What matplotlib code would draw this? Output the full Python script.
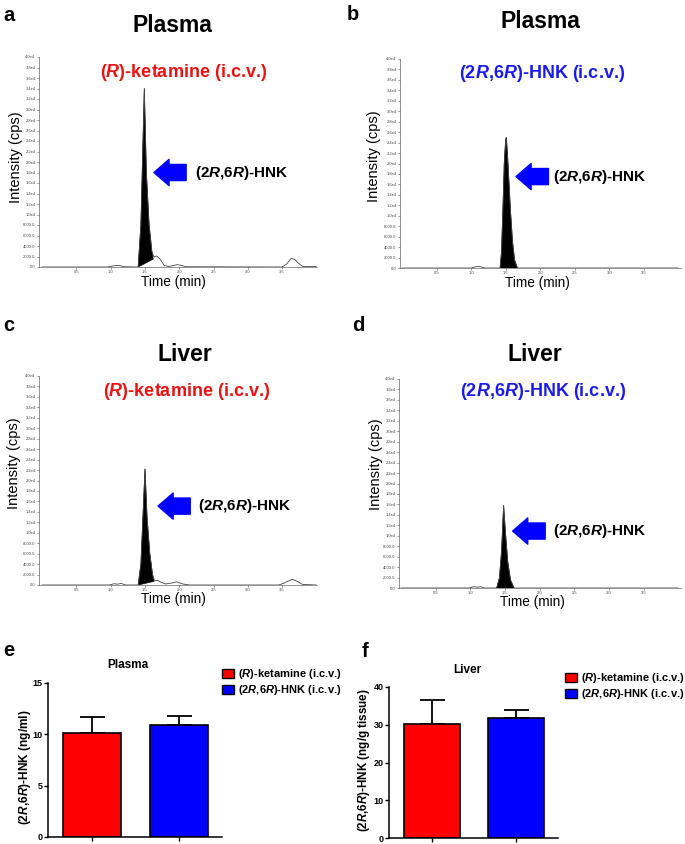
import numpy as np
import matplotlib.pyplot as plt
from matplotlib.patches import Patch

plt.rcParams['font.family'] = ['Liberation Sans', 'DejaVu Sans']
plt.rcParams['mathtext.fontset'] = 'custom'
plt.rcParams['mathtext.rm'] = 'Liberation Sans'
plt.rcParams['mathtext.it'] = 'Liberation Sans:italic'
plt.rcParams['mathtext.bf'] = 'Liberation Sans:bold'
try:
    plt.rcParams['mathtext.bfit'] = 'Liberation Sans:italic:bold'
    R = r'$\mathbfit{R}$'
except KeyError:
    R = r'$\mathit{R}$'

# axis ticks of the chromatograms
t_ticks = [0.5, 1.0, 1.5, 2.0, 2.5, 3.0, 3.5]
t_tick_labels = ['0.5', '1.0', '1.5', '2.0', '2.5', '3.0', '3.5']
y_ticks = [0, 2000, 4000, 6000, 8000, 10000, 12000, 14000, 16000, 18000, 20000,
           22000, 24000, 26000, 28000, 30000, 32000, 34000, 36000, 38000, 40000]
y_tick_labels = ['0.0', '2000.0', '4000.0', '6000.0', '8000.0', '1.0e4', '1.2e4',
                 '1.4e4', '1.6e4', '1.8e4', '2.0e4', '2.2e4', '2.4e4', '2.6e4',
                 '2.8e4', '3.0e4', '3.2e4', '3.4e4', '3.6e4', '3.8e4', '4.0e4']

# a: plasma, (R)-ketamine
a_time = [0.0, 0.95, 1.05, 1.12, 1.2, 1.38, 1.40, 1.44, 1.49, 1.52, 1.56, 1.60, 1.63,
          1.67, 1.72, 1.78, 1.85, 1.92, 1.97, 2.03, 2.1, 3.5, 3.57, 3.63, 3.68, 3.74,
          3.8, 4.0]
a_int = [0, 0, 250, 300, 50, 0, 0, 8000, 34000, 18000, 8000, 3000, 1900,
         2100, 1500, 300, 100, 300, 450, 300, 50, 0, 600, 1600, 1500, 700,
         100, 100]
a_peak_t = [1.40, 1.44, 1.49, 1.52, 1.56, 1.60, 1.62]
a_peak_i = [0, 8000, 34000, 18000, 8000, 3000, 1500]

# b: plasma, (2R,6R)-HNK
b_time = [0.0, 1.0, 1.07, 1.12, 1.2, 1.42, 1.44, 1.46, 1.48, 1.50, 1.51, 1.53,
          1.55, 1.57, 1.60, 1.63, 1.67, 4.0]
b_int = [0, 0, 250, 300, 0, 0, 3000, 11000, 20000, 24500, 25000, 21000,
         16000, 11000, 5000, 1500, 0, 0]
b_peak_t = [1.42, 1.44, 1.46, 1.48, 1.50, 1.51, 1.53, 1.55, 1.57, 1.60, 1.63, 1.67]
b_peak_i = [0, 3000, 11000, 20000, 24500, 25000, 21000, 16000, 11000, 5000, 1500, 0]

# c: liver, (R)-ketamine
c_time = [0.0, 0.98, 1.05, 1.1, 1.15, 1.22, 1.40, 1.44, 1.50, 1.53, 1.57, 1.61,
          1.64, 1.68, 1.74, 1.8, 1.9, 1.96, 2.05, 2.15, 3.45, 3.52, 3.58, 3.65,
          3.72, 3.8, 4.0]
c_int = [0, 0, 250, 150, 300, 0, 0, 4000, 22200, 13000, 6000, 2000,
         800, 900, 500, 200, 400, 600, 200, 0, 0, 300, 700, 1100,
         700, 100, 0]
c_peak_t = [1.40, 1.44, 1.50, 1.53, 1.57, 1.61, 1.63]
c_peak_i = [0, 4000, 22200, 13000, 6000, 2000, 700]

# d: liver, (2R,6R)-HNK
d_time = [0.0, 0.98, 1.05, 1.1, 1.15, 1.2, 1.38, 1.42, 1.45, 1.48, 1.51, 1.54,
          1.58, 1.63, 4.0]
d_int = [0, 0, 250, 150, 250, 0, 0, 2000, 7000, 15800, 10000, 5000,
         1500, 0, 0]
d_peak_t = [1.38, 1.42, 1.45, 1.48, 1.51, 1.54, 1.58, 1.63]
d_peak_i = [0, 2000, 7000, 15800, 10000, 5000, 1500, 0]

# e, f: bar data
groups = ['(R)-ketamine (i.c.v.)', '(2R,6R)-HNK (i.c.v.)']
plasma_mean = [10.1, 10.9]
plasma_err = [1.6, 0.85]
liver_mean = [30.2, 31.9]
liver_err = [6.4, 2.1]
bar_colors = ['#ff0000', '#0000ff']

W, H = 685, 844
fig = plt.figure(figsize=(W / 100, H / 100), dpi=100)


def rect(x0, y0, x1, y1):
    return [x0 / W, 1 - y1 / H, (x1 - x0) / W, (y1 - y0) / H]


def ftext(x, y, s, **kw):
    fig.text(x / W, 1 - y / H, s, **kw)


def chrom(ax, t, y, pt, py, xlim, arrow_y, tip, text_x):
    ax.plot(t, y, color='#444444', lw=0.6)
    ax.fill(pt, py, color='black', lw=0.5)
    ax.set_xlim(*xlim)
    ax.set_ylim(0, 40000)
    ax.set_xticks(t_ticks)
    ax.set_xticklabels(t_tick_labels)
    ax.set_yticks(y_ticks)
    ax.set_yticklabels(y_tick_labels)
    ax.tick_params(labelsize=3, length=1.5, width=0.4, pad=1, colors='#444444')
    for s in ['top', 'right']:
        ax.spines[s].set_visible(False)
    for s in ['left', 'bottom']:
        ax.spines[s].set_linewidth(0.5)
        ax.spines[s].set_color('#666666')
    ax.annotate('', xy=(tip, arrow_y), xytext=(tip + 0.47, arrow_y),
                arrowprops=dict(arrowstyle='simple,head_length=0.75,head_width=1.3,tail_width=0.8',
                                color='#0000ff', shrinkA=0, shrinkB=0, mutation_scale=14.5))
    ax.text(text_x, arrow_y, '(2' + R + ',6' + R + ')-HNK', fontsize=11,
            fontweight='bold', ha='left', va='center')


ax_a = fig.add_axes(rect(39, 57, 317, 267))
chrom(ax_a, a_time, a_int, a_peak_t, a_peak_i, (-0.047, 4.01), 18000, 1.63, 2.23)
ax_b = fig.add_axes(rect(400, 59, 681, 268))
chrom(ax_b, b_time, b_int, b_peak_t, b_peak_i, (-0.03, 4.04), 17500, 1.65, 2.19)
ax_c = fig.add_axes(rect(39, 376, 317, 585))
chrom(ax_c, c_time, c_int, c_peak_t, c_peak_i, (-0.047, 4.01), 15100, 1.69, 2.28)
ax_d = fig.add_axes(rect(399, 379, 681, 588))
chrom(ax_d, d_time, d_int, d_peak_t, d_peak_i, (-0.03, 4.04), 10900, 1.61, 2.19)

# panel letters and titles
for x, y, s in [(3, 21, 'a'), (347, 20, 'b'), (3, 331, 'c'), (352, 331, 'd'),
                (3, 656, 'e'), (362, 657, 'f')]:
    ftext(x, y, s, fontsize=14.5, fontweight='bold', ha='left', va='baseline')

for x, y, s in [(172, 32, 'Plasma'), (540, 28, 'Plasma'), (185, 361, 'Liver'),
                (535, 361, 'Liver')]:
    ftext(x, y, s, fontsize=16.5, fontweight='bold', ha='center', va='baseline')

ket = '(' + R + ')-ketamine (i.c.v.)'
hnk = '(2' + R + ',6' + R + ')-HNK (i.c.v.)'
ftext(184, 77, ket, fontsize=13, fontweight='bold', color='#ee1111', ha='center', va='baseline')
ftext(542, 78, hnk, fontsize=13, fontweight='bold', color='#1a1aee', ha='center', va='baseline')
ftext(187, 396, ket, fontsize=13, fontweight='bold', color='#ee1111', ha='center', va='baseline')
ftext(543, 396, hnk, fontsize=13, fontweight='bold', color='#1a1aee', ha='center', va='baseline')

for x, y in [(173, 286), (537, 287), (173, 603), (532, 606)]:
    ftext(x, y, 'Time (min)', fontsize=9.8, ha='center', va='baseline')
for x, y in [(16, 157), (374, 156), (14, 463), (376, 464)]:
    ftext(x, y, 'Intensity (cps)', fontsize=10.5, rotation=90, ha='center', va='center')


def bars(ax, mean, err, ymax, yticks, title, tx, ty, leg_xy):
    x = np.arange(len(mean))
    ax.bar(x, mean, width=0.67, color=bar_colors, edgecolor='black', lw=1.2, zorder=2)
    ax.errorbar(x, mean, yerr=[[0] * len(err), err], fmt='none', ecolor='black',
                elinewidth=1.3, capsize=9, capthick=1.3, zorder=1)
    ax.set_xlim(-0.51, 1.5)
    ax.set_ylim(0, ymax)
    ax.set_yticks(yticks)
    ax.set_xticks(x)
    ax.set_xticklabels(['', ''])
    for s in ['top', 'right']:
        ax.spines[s].set_visible(False)
    for s in ['left', 'bottom']:
        ax.spines[s].set_linewidth(1.1)
    ax.tick_params(labelsize=6.5, length=3, width=1.0, pad=1)
    for lab in ax.get_yticklabels():
        lab.set_fontweight('bold')
    ftext(tx, ty, title, fontsize=8.5, fontweight='bold', ha='center', va='baseline')
    handles = [Patch(facecolor=c, edgecolor='black', lw=1.0) for c in bar_colors]
    labels = ['(' + R + ')-ketamine (i.c.v.)', '(2' + R + ',6' + R + ')-HNK (i.c.v.)']
    ax.legend(handles, labels, loc='upper left', bbox_to_anchor=(leg_xy[0] / W, 1 - leg_xy[1] / H),
              bbox_transform=fig.transFigure, frameon=False, borderpad=0, borderaxespad=0,
              handlelength=1.1, handleheight=0.85, handletextpad=0.35, labelspacing=0.2,
              prop={'weight': 'bold', 'size': 8})


ax_e = fig.add_axes(rect(48, 683, 222, 837))
bars(ax_e, plasma_mean, plasma_err, 15, [0, 5, 10, 15], 'Plasma', 128, 668, (222, 667))
ftext(25, 767, '(2' + R + ',6' + R + ')-HNK (ng/ml)', fontsize=8.6, fontweight='bold',
      rotation=90, ha='center', va='center')

ax_f = fig.add_axes(rect(389, 687, 558, 838))
bars(ax_f, liver_mean, liver_err, 40, [0, 10, 20, 30, 40], 'Liver', 467, 673, (565, 671))
ftext(364, 760, '(2' + R + ',6' + R + ')-HNK (ng/g tissue)', fontsize=8.4, fontweight='bold',
      rotation=90, ha='center', va='center')

fig.savefig('out.png', dpi=100)
